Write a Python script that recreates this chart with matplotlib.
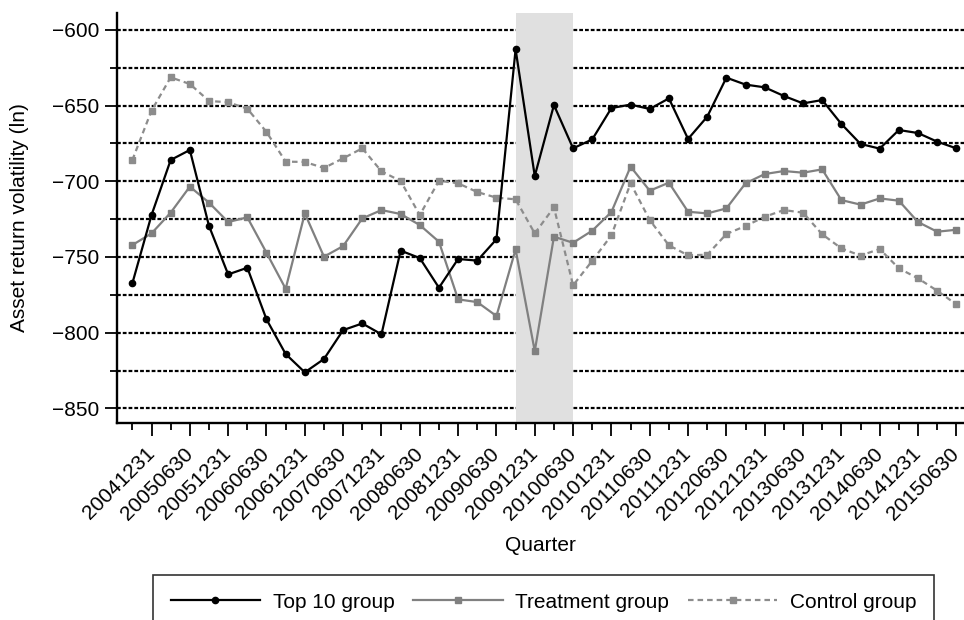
import numpy as np
import matplotlib.pyplot as plt

plt.rcParams['font.family'] = ['Liberation Sans', 'DejaVu Sans']

# Quarter-end dates, 2004Q3 .. 2015Q2
quarters = []
for yr in range(2004, 2016):
    for md in ['0331', '0630', '0930', '1231']:
        quarters.append(f'{yr}{md}')
quarters = quarters[quarters.index('20040930'):quarters.index('20150630') + 1]

top10 = [-767.4, -722.3, -685.9, -679.3, -729.5, -761.5, -757.1, -791.2, -814.1, -826.2,
         -817.4, -798.3, -793.9, -801.1, -745.8, -750.7, -770.3, -751.3, -752.4, -738.3,
         -612.8, -696.5, -649.6, -678.2, -672.3, -651.6, -649.3, -652.2, -645.2, -672.0,
         -657.3, -631.5, -636.1, -637.9, -643.6, -648.5, -646.3, -662.1, -675.3, -678.4,
         -666.1, -668.1, -673.8, -678.2]
treatment = [-742.1, -734.4, -720.7, -703.5, -714.1, -726.9, -723.8, -747.2, -771.0, -721.2,
             -749.8, -742.8, -724.5, -719.0, -721.6, -728.9, -739.9, -778.0, -779.8, -789.0,
             -745.0, -812.2, -736.6, -740.6, -732.6, -720.3, -690.3, -706.2, -700.9, -720.1,
             -721.2, -717.9, -701.3, -695.2, -693.2, -694.3, -692.1, -712.4, -715.4, -711.3,
             -712.8, -726.9, -733.3, -732.0]
control = [-685.9, -653.3, -631.3, -635.7, -646.9, -647.8, -652.0, -667.4, -687.0, -687.2,
           -691.2, -684.8, -678.2, -693.4, -699.8, -722.3, -699.6, -701.3, -707.1, -710.8,
           -711.9, -734.4, -717.2, -768.7, -752.5, -735.7, -701.3, -725.6, -742.3, -748.9,
           -748.5, -734.8, -729.5, -723.4, -719.0, -720.7, -735.0, -744.3, -749.1, -744.7,
           -757.5, -764.1, -772.3, -781.3]

shade_start, shade_end = '20090930', '20100630'

x = np.arange(len(quarters))

fig = plt.figure(figsize=(9.64, 6.2), dpi=100)
ax = fig.add_axes([0.1214, 0.3177, 0.8786, 0.6613])

# dashed reference lines every 25
for yv in range(-850, -599, 25):
    ax.axhline(yv, color='black', linestyle=(0, (1.7, 0.9)), linewidth=1.6, zorder=1)

ax.axvspan(quarters.index(shade_start), quarters.index(shade_end),
           color='#e0e0e0', zorder=2, linewidth=0)

ax.plot(x, top10, color='black', marker='o', markersize=4.5, linewidth=1.6,
        label='Top 10 group', zorder=4)
ax.plot(x, treatment, color='#808080', marker='s', markersize=4.5, linewidth=1.6,
        label='Treatment group', zorder=3)
ax.plot(x, control, color='#8c8c8c', marker='s', markersize=4.5, linewidth=1.6,
        linestyle=(0, (2.5, 1.8)), label='Control group', zorder=3)

ax.set_xlim(-0.8, 43.4)
ax.set_ylim(-859.7, -588.8)

yt = list(range(-850, -599, 50))
ax.set_yticks(yt)
ax.set_yticklabels([f'\u2212{abs(v)}' for v in yt])
ax.set_yticks(range(-825, -599, 50), minor=True)

ax.set_xticks(x[1::2])
ax.set_xticklabels(quarters[1::2], rotation=45, ha='right', va='center',
                   rotation_mode='anchor')
ax.set_xticks(x[0::2], minor=True)

ax.tick_params(axis='both', which='major', labelsize=15, width=1.3, length=9,
               direction='out', pad=4)
ax.tick_params(axis='both', which='minor', width=1.3, length=5, direction='out')
ax.tick_params(axis='x', which='major', pad=11)

for s in ['top', 'right']:
    ax.spines[s].set_visible(False)
for s in ['left', 'bottom']:
    ax.spines[s].set_linewidth(1.7)

ax.set_xlabel('Quarter', fontsize=15, labelpad=9)
ax.set_ylabel('Asset return volatility (ln)', fontsize=15, labelpad=16)

leg = ax.legend(loc='upper center', bbox_to_anchor=(0.5638, 0.0726),
                bbox_transform=fig.transFigure, ncol=3, frameon=True,
                fancybox=False, edgecolor='black', fontsize=15,
                handlelength=4.3, handletextpad=0.6, columnspacing=0.9,
                borderpad=0.85, borderaxespad=0)
leg.get_frame().set_linewidth(1.2)

fig.savefig('out.png', dpi=100)
